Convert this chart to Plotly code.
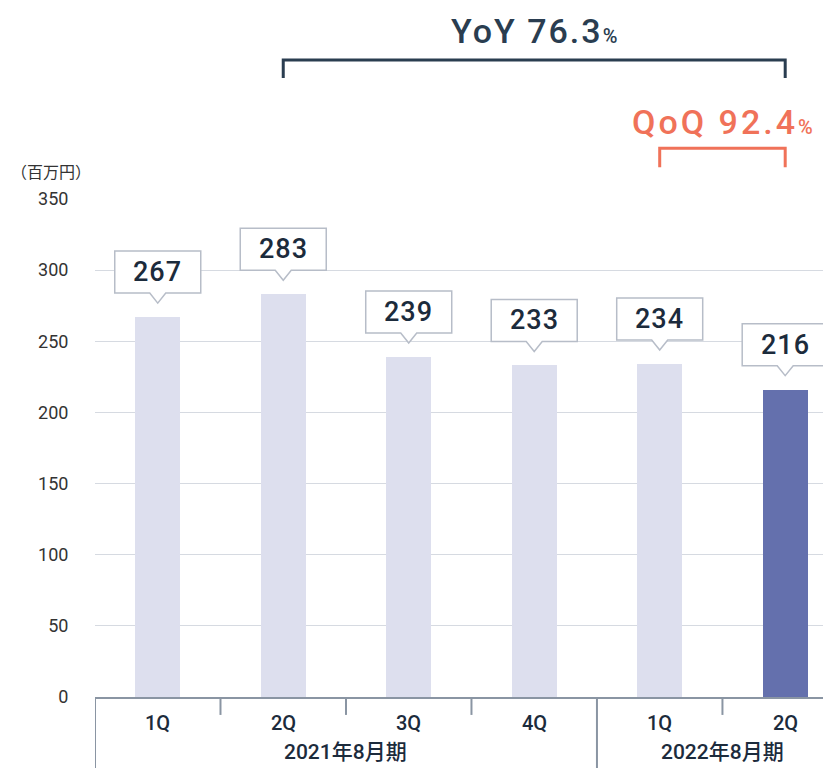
import plotly.graph_objects as go

quarters = ["1Q", "2Q", "3Q", "4Q", "1Q", "2Q"]
values = [267, 283, 239, 233, 234, 216]
periods = ["2021年8月期", "2022年8月期"]
period_centers = [1.5, 4.5]
ytick_vals = [0, 50, 100, 150, 200, 250, 300, 350]
yoy_text = "YoY 76.3"
qoq_text = "QoQ 92.4"
unit_label = "（百万円）"

xs = list(range(len(values)))
LIGHT = "#dddfee"
DARK = "#6470ad"
NAVY = "#1c2b3c"
FONT = "Roboto, 'Noto Sans CJK JP', sans-serif"

colors = [LIGHT] * (len(values) - 1) + [DARK]

fig = go.Figure()
fig.add_trace(go.Bar(x=xs, y=values, marker=dict(color=colors, line=dict(width=0)),
                     width=0.36, hoverinfo="skip"))

shapes = []
annotations = []

# callout boxes
for x, v in zip(xs, values):
    path = "M -43,24 L -8,24 L 0,14 L 8,24 L 43,24 L 43,66 L -43,66 Z"
    shapes.append(dict(type="path", xref="x", yref="y", xsizemode="pixel", ysizemode="pixel",
                       xanchor=x, yanchor=v, path=path,
                       line=dict(color="#b7bdc8", width=1.5), fillcolor="white", layer="above"))
    annotations.append(dict(x=x, y=v, xref="x", yref="y",
                            text="<span style='letter-spacing:1px'>%d</span>" % v, showarrow=False,
                            yshift=45, font=dict(family=FONT, size=27, color=NAVY, weight=500),
                            xanchor="center", yanchor="middle"))

# x category labels
for x, q in zip(xs, quarters):
    annotations.append(dict(x=x, y=-0.052, xref="x", yref="paper", text=q,
                            showarrow=False, font=dict(family=FONT, size=20, color=NAVY, weight=500),
                            xanchor="center", yanchor="middle"))
for c, p in zip(period_centers, periods):
    annotations.append(dict(x=c, y=-0.111, xref="x", yref="paper", text=p,
                            showarrow=False, font=dict(family=FONT, size=21, color=NAVY, weight=500),
                            xanchor="center", yanchor="middle"))

# dividers below axis
AX = "#8a95a3"
for b in [-0.5, 3.5]:
    shapes.append(dict(type="line", xref="x", yref="paper", x0=b, x1=b, y0=0, y1=-0.15,
                       line=dict(color=AX, width=2)))
for b in [0.5, 1.5, 2.5, 4.5]:
    shapes.append(dict(type="line", xref="x", yref="paper", x0=b, x1=b, y0=0, y1=-0.036,
                       line=dict(color=AX, width=2)))

# YoY bracket
YC = "#2a3d50"
shapes.append(dict(type="path", xref="x", yref="paper",
                   path="M 1,1.243 L 1,1.279 L 5,1.279 L 5,1.243",
                   line=dict(color=YC, width=3)))
annotations.append(dict(x=3, y=1.337, xref="x", yref="paper",
                        text="<span style='letter-spacing:2px'>%s</span><span style='font-size:20px'>%%</span>" % yoy_text,
                        showarrow=False, font=dict(family=FONT, size=34, color=YC, weight=500),
                        xanchor="center", yanchor="middle"))

# QoQ bracket
QC = "#f07259"
shapes.append(dict(type="path", xref="x", yref="paper",
                   path="M 4,1.064 L 4,1.102 L 5,1.102 L 5,1.064",
                   line=dict(color=QC, width=3)))
annotations.append(dict(x=4.5, y=1.154, xref="x", yref="paper",
                        text="<span style='letter-spacing:3px'>%s</span><span style='font-size:20px'>%%</span>" % qoq_text,
                        showarrow=False, font=dict(family=FONT, size=34, color=QC, weight=500),
                        xanchor="center", yanchor="middle"))

annotations.append(dict(x=-0.060, y=1.054, xref="paper", yref="paper", text=unit_label,
                        showarrow=False, font=dict(family=FONT, size=16, color="#333333"),
                        xanchor="center", yanchor="middle"))

# page body has an 8px margin, so the figure is 8px smaller and offset
fig.update_layout(
    width=823, height=760,
    margin=dict(l=87, r=0, t=191, b=71),
    plot_bgcolor="white", paper_bgcolor="white",
    showlegend=False,
    shapes=shapes, annotations=annotations,
    xaxis=dict(range=[-0.5, 5.365], showticklabels=False, showgrid=False, zeroline=False,
               showline=True, linecolor=AX, linewidth=2, ticks=""),
    yaxis=dict(range=[0, 350], tickvals=ytick_vals, showgrid=True, gridcolor="#d6dae1",
               gridwidth=1, zeroline=False, showline=False, ticks="outside", ticklen=22,
               tickcolor="rgba(0,0,0,0)", tickfont=dict(family=FONT, size=18, color="#333333")),
    bargap=0,
)

fig.write_html("out.html")
